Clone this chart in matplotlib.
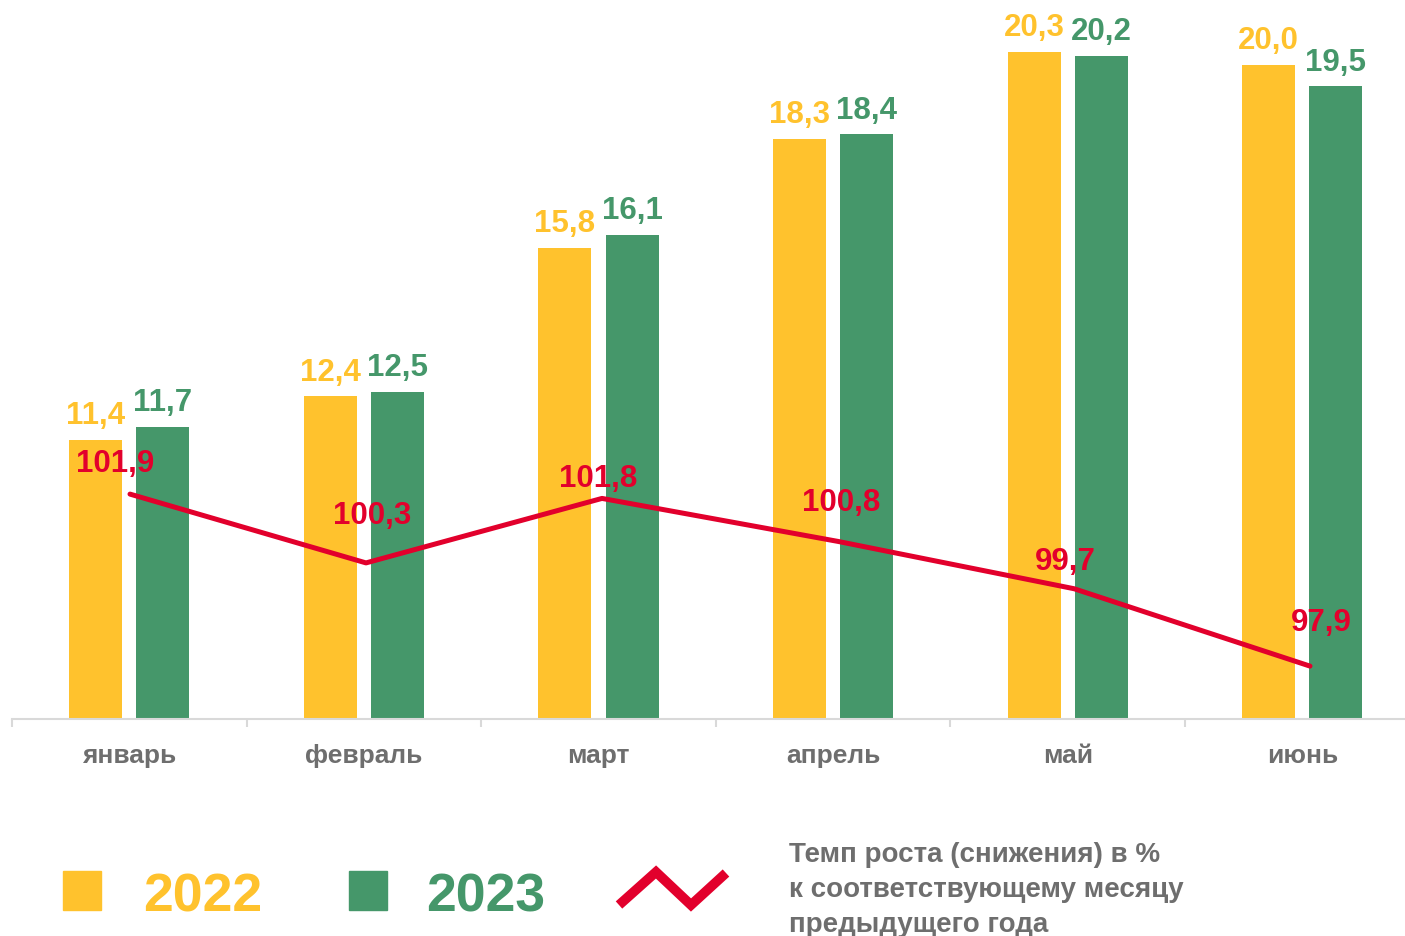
import matplotlib
matplotlib.use("Agg")
import matplotlib.pyplot as plt
import numpy as np
from matplotlib.patches import Rectangle
from matplotlib.lines import Line2D

months = ["январь", "февраль", "март", "апрель", "май", "июнь"]
values_2022 = [11.4, 12.4, 15.8, 18.3, 20.3, 20.0]
values_2023 = [11.7, 12.5, 16.1, 18.4, 20.2, 19.5]
growth_rate = [101.9, 100.3, 101.8, 100.8, 99.7, 97.9]
legend_2022 = "2022"
legend_2023 = "2023"
legend_line = ["Темп роста (снижения) в %", "к соответствующему месяцу", "предыдущего года"]

# layout for line labels (pixel offsets of label from point: dx, dy up)
line_label_offsets_px = [(-15, 23), (6, 40), (-4, 12), (3, 31), (-9, 20), (11, 36)]

YELLOW = "#FFC22D"
GREEN = "#45976A"
RED = "#E2002C"
GRAY = "#6E6E6E"
AXGRAY = "#D9D9D9"

plt.rcParams['font.family'] = ['Liberation Sans', 'DejaVu Sans']

W, H = 1405, 937
fig = plt.figure(figsize=(W / 100, H / 100), dpi=100)

def px_rect(x0, y0, x1, y1):
    return [x0 / W, (H - y1) / H, (x1 - x0) / W, (y1 - y0) / H]

left_px, right_px, top_px, bottom_px = 12, 1419.6, 22, 720
ax = fig.add_axes(px_rect(left_px, top_px, right_px, bottom_px))
x = np.arange(len(months))
bw = 0.226
off = 0.143
ax.bar(x - off, values_2022, width=bw, color=YELLOW, zorder=2)
ax.bar(x + off, values_2023, width=bw, color=GREEN, zorder=2)
ax.set_xlim(-0.5, len(months) - 0.5)
ax.set_ylim(5, 21)

for xi, v in zip(x, values_2022):
    ax.annotate(f"{v:.1f}".replace(".", ","), (xi - off, v), xytext=(0, 12),
                textcoords="offset points", ha="center", va="baseline",
                fontsize=22.5, fontweight="bold", color=YELLOW, annotation_clip=False)
for xi, v in zip(x, values_2023):
    ax.annotate(f"{v:.1f}".replace(".", ","), (xi + off, v), xytext=(0, 12),
                textcoords="offset points", ha="center", va="baseline",
                fontsize=22.5, fontweight="bold", color=GREEN, annotation_clip=False)

for s in ["top", "right", "left"]:
    ax.spines[s].set_visible(False)
ax.spines["bottom"].set_color(AXGRAY)
ax.spines["bottom"].set_linewidth(1.5)
ax.set_yticks([])
ax.set_xticks(x)
ax.set_xticklabels(months, fontsize=19, fontweight="bold", color=GRAY)
ax.tick_params(axis="x", which="major", length=0, pad=17)
ax.set_xticks(np.arange(-0.5, len(months), 1.0), minor=True)
ax.tick_params(axis="x", which="minor", length=6, width=1.5, color=AXGRAY, direction="out")
ax.patch.set_visible(False)

# line on secondary scale
ax2 = fig.add_axes(px_rect(left_px, top_px, right_px, bottom_px))
ax2.set_xlim(-0.5, -0.5 + (right_px - left_px) / 236.0)
ax2.set_ylim(96.67, 96.67 + (bottom_px - top_px) / 43.0)
ax2.axis("off")
ax2.patch.set_visible(False)
ax2.plot(x, growth_rate, color=RED, linewidth=3.6, solid_capstyle="round", zorder=3)
for xi, v, (dx, dy) in zip(x, growth_rate, line_label_offsets_px):
    ax2.annotate(f"{v:.1f}".replace(".", ","), (xi, v), xytext=(dx * 0.72, dy * 0.72),
                 textcoords="offset points", ha="center", va="baseline",
                 fontsize=22.5, fontweight="bold", color=RED, annotation_clip=False)

# legend
def fx(px):
    return px / W

def fy(py):
    return (H - py) / H

fig.patches.append(Rectangle((fx(63), fy(911)), 38 / W, 39 / H, transform=fig.transFigure,
                             color=YELLOW, figure=fig))
fig.patches.append(Rectangle((fx(349), fy(911)), 38 / W, 39 / H, transform=fig.transFigure,
                             color=GREEN, figure=fig))
fig.text(fx(143), fy(912), legend_2022, fontsize=38.5, fontweight="bold", color=YELLOW,
         ha="left", va="baseline")
fig.text(fx(426), fy(912), legend_2023, fontsize=38.5, fontweight="bold", color=GREEN,
         ha="left", va="baseline")
zig = Line2D([fx(619), fx(656), fx(691), fx(726)], [fy(906), fy(873), fy(906), fy(874)],
             transform=fig.transFigure, color=RED, linewidth=7, solid_joinstyle="miter",
             solid_capstyle="butt")
fig.lines.append(zig)
for i, line in enumerate(legend_line):
    fig.text(fx(789), fy(862 + 35 * i), line, fontsize=20, fontweight="bold", color=GRAY,
             ha="left", va="baseline")

fig.savefig("out.png", dpi=100)
